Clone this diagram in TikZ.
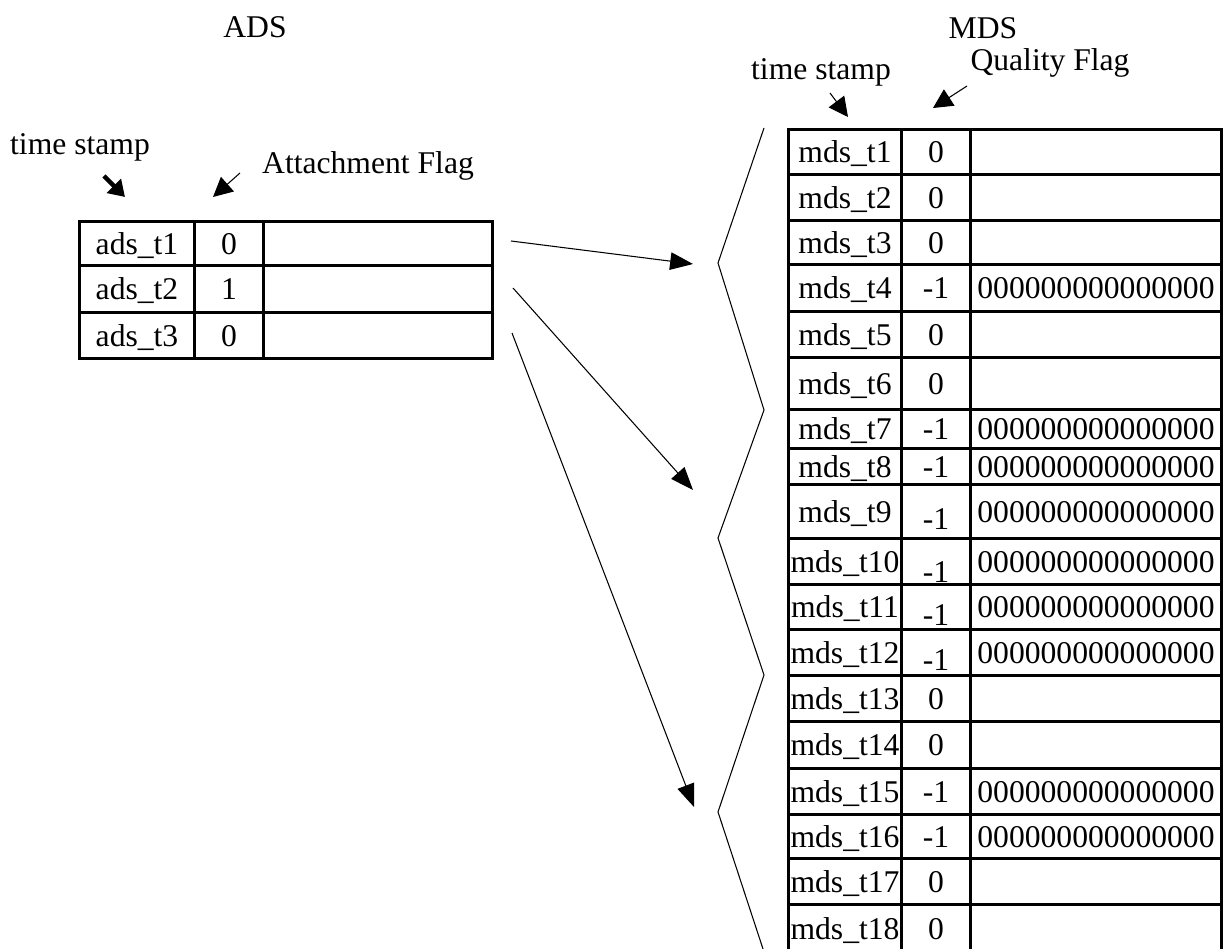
\documentclass[tikz,border=0pt]{standalone}
\usepackage{fontspec}
\setmainfont{Liberation Serif}
\usetikzlibrary{positioning}
\usetikzlibrary{arrows.meta}

\newcommand{\zeros}{000000000000000}

\begin{document}
\begin{tikzpicture}[x=0.02cm,y=-0.02cm,
		font=\fontsize{18}{20}\selectfont,
		cell/.style={draw,line width=1.7pt,inner sep=0pt,anchor=north west,
			text height=12pt,text depth=0pt},
		link/.style={line width=0.6pt,-{Triangle[length=13pt,width=10pt]}},
		tag/.style={line width=0.6pt,-{Triangle[length=11pt,width=11pt]}}]

	\useasboundingbox (0,0) rectangle (1223,949);

	% titles
	\node (ads) at (255,27) {ADS};
	\node (mds) at (983,28) {MDS};

	% ADS table: row / top / height / flag
	\foreach \n/\t/\h/\f in {1/220/44/0, 2/264/47/1, 3/311/46/0} {
		\node[cell,minimum width=115*0.02cm,minimum height=\h*0.02cm] (a\n) at (78,\t) {ads\_t\n};
		\node[cell,minimum width=69*0.02cm,minimum height=\h*0.02cm] (af\n) at (193,\t) {\f};
		\node[cell,minimum width=229*0.02cm,minimum height=\h*0.02cm] (ad\n) at (262,\t) {};
	}

	% MDS table: row / top / height / flag / data / drop of the flag (pt)
	\foreach \n/\t/\h/\f/\d/\s in {
		1/128/45/0//0, 2/173/46/0//0, 3/219/44/0//0,
		4/263/47/-1/\zeros/0, 5/310/46/0//0, 6/356/52/0//0,
		7/408/39/-1/\zeros/0, 8/447/36/-1/\zeros/0, 9/483/54/-1/\zeros/4.5,
		10/537/46/-1/\zeros/5.7, 11/583/45/-1/\zeros/4.5, 12/628/46/-1/\zeros/4,
		13/674/46/0//0, 14/720/47/0//0, 15/767/46/-1/\zeros/0,
		16/813/44/-1/\zeros/0, 17/857/46/0//0, 18/903/48/0//0} {
		\node[cell,minimum width=113*0.02cm,minimum height=\h*0.02cm] (m\n) at (787,\t) {mds\_t\n};
		\node[cell,minimum width=69*0.02cm,minimum height=\h*0.02cm] (mf\n) at (900,\t) {\raisebox{-\s pt}{\f}};
		\node[cell,minimum width=251*0.02cm,minimum height=\h*0.02cm] (md\n) at (969,\t) {\d};
	}

	% column headings and their pointers
	\node (ts1) at (80,147) {time stamp};
	\node (att) at (368,166) {Attachment Flag};
	\node (ts2) at (821,72) {time stamp};
	\node (qf) at (1050,63) {Quality Flag};

	\coordinate (ts1a) at (104,176);  \coordinate (ts1b) at (125,197);
	\coordinate (atta) at (240,173);  \coordinate (attb) at (213,197);
	\coordinate (ts2a) at (830,93);   \coordinate (ts2b) at (848,117);
	\coordinate (qfa) at (967,86);    \coordinate (qfb) at (933,108);

	\draw[line width=2.6pt,-{Triangle[length=9pt,width=11pt]}] (ts1a) -- (ts1b);
	\path[tag]
	(atta) edge (attb)
	(ts2a) edge (ts2b)
	(qfa) edge (qfb);

	% zigzag brace in front of the MDS rows
	\coordinate (z0) at (764,128);
	\coordinate (z1) at (718,263);
	\coordinate (z2) at (764,410);
	\coordinate (z3) at (718,538);
	\coordinate (z4) at (764,675);
	\coordinate (z5) at (718,812);
	\coordinate (z6) at (764,952);
	\draw[line width=0.6pt] (z0) -- (z1) -- (z2) -- (z3) -- (z4) -- (z5) -- (z6);

	% links from the ADS rows to the MDS groups
	\coordinate (s1) at (511,241);  \coordinate (e1) at (693,264);
	\coordinate (s2) at (513,288);  \coordinate (e2) at (693,490);
	\coordinate (s3) at (512,333);  \coordinate (e3) at (694,807);
	\path[link]
	(s1) edge (e1)
	(s2) edge (e2)
	(s3) edge (e3);
\end{tikzpicture}
\end{document}
